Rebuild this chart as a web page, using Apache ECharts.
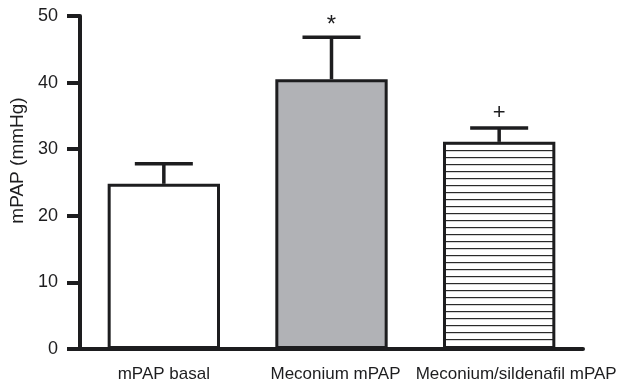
<!DOCTYPE html>
<html>
<head>
<meta charset="utf-8">
<script src="https://cdn.jsdelivr.net/npm/echarts@6/dist/echarts.min.js"></script>
<style>
html,body{margin:0;padding:0;background:#fff;}
#chart{width:624px;height:386px;}
</style>
</head>
<body>
<div id="chart"></div>
<script>
var categories = ['mPAP basal', 'Meconium mPAP', 'Meconium/sildenafil mPAP'];
var means = [24.8, 40.5, 31.1];
var upperErrors = [27.8, 46.8, 33.2];
var markers = ['', '*', '+'];
var yTicks = [0, 10, 20, 30, 40, 50];

var ink = '#1d1d1f';
var FONT = 'Liberation Sans, Arial, Helvetica, sans-serif';

// horizontal hatch pattern
var pat = document.createElement('canvas');
pat.width = 8; pat.height = 7;
var pc = pat.getContext('2d');
pc.fillStyle = '#ffffff'; pc.fillRect(0, 0, 8, 7);
pc.fillStyle = '#2a2a2a'; pc.fillRect(0, 3, 8, 1.2);

var fills = ['#ffffff', '#b1b2b6', { image: pat, repeat: 'repeat' }];
var labelShift = [0, 8, 34];

var chart = echarts.init(document.getElementById('chart'), null, { renderer: 'canvas' });

var errData = means.map(function (m, i) { return [i, m, upperErrors[i], markers[i]]; });

chart.setOption({
  animation: false,
  backgroundColor: '#fff',
  grid: { left: 80, right: 41, top: 16, bottom: 37, containLabel: false },
  xAxis: {
    type: 'category',
    data: categories.map(function (c, i) {
      return { value: c, textStyle: { padding: [0, 0, 0, labelShift[i]] } };
    }),
    axisLine: { lineStyle: { color: ink, width: 4 } },
    axisTick: { alignWithLabel: true, length: 9, lineStyle: { color: ink, width: 3.5 } },
    axisLabel: { color: ink, fontSize: 17, fontFamily: FONT, margin: 17, interval: 0 }
  },
  yAxis: {
    type: 'value',
    min: yTicks[0],
    max: yTicks[yTicks.length - 1],
    interval: 10,
    name: 'mPAP (mmHg)',
    nameLocation: 'middle',
    nameGap: 44,
    nameTextStyle: { color: ink, fontSize: 19, fontFamily: FONT, padding: [0, 0, 0, 44] },
    axisLine: { show: true, lineStyle: { color: ink, width: 4 } },
    axisTick: { show: true, length: 13, lineStyle: { color: ink, width: 4 } },
    axisLabel: { color: ink, fontSize: 18, fontFamily: FONT, margin: 22 },
    splitLine: { show: false }
  },
  series: [
    {
      type: 'bar',
      barWidth: '67%',
      data: means.map(function (v, i) {
        return { value: v, itemStyle: { color: fills[i] } };
      }),
      itemStyle: { borderColor: ink, borderWidth: 3 },
      z: 2
    },
    {
      type: 'custom',
      data: errData,
      z: 3,
      renderItem: function (params, api) {
        var i = api.value(0);
        var top = api.coord([i, api.value(1)]);
        var hi = api.coord([i, api.value(2)]);
        var bw = api.size([1, 0])[0];
        var half = bw * 0.173;
        var lw = 3.5;
        var children = [
          { type: 'line', shape: { x1: top[0], y1: top[1], x2: hi[0], y2: hi[1] }, style: { stroke: ink, lineWidth: lw } },
          { type: 'line', shape: { x1: hi[0] - half, y1: hi[1], x2: hi[0] + half, y2: hi[1] }, style: { stroke: ink, lineWidth: lw } }
        ];
        var mk = errData[params.dataIndex][3];
        if (mk) {
          var isStar = mk === '*';
          children.push({
            type: 'text',
            style: { text: mk, x: hi[0], y: hi[1] - (isStar ? 12 : 15), align: 'center', verticalAlign: 'middle',
                     fill: ink, fontSize: isStar ? 24 : 22, fontFamily: FONT }
          });
        }
        return { type: 'group', children: children };
      }
    }
  ]
});
</script>
</body>
</html>
